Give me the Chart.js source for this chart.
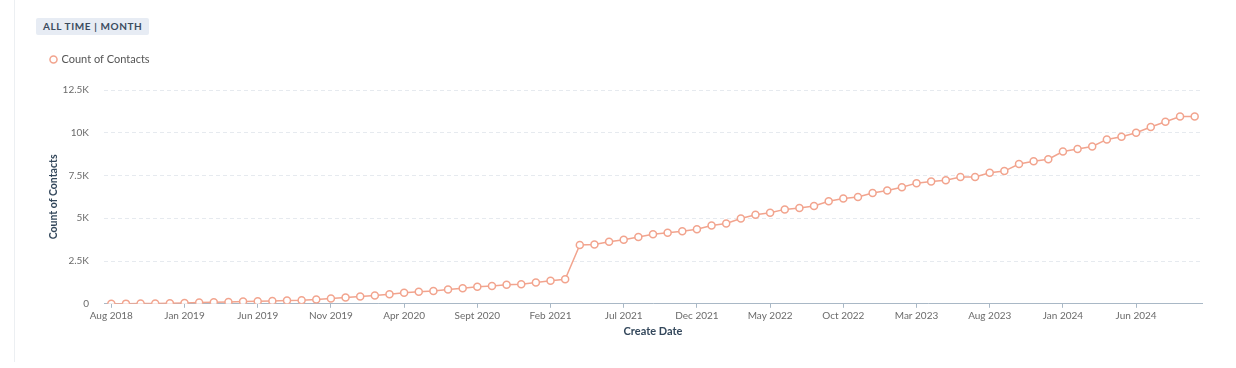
<!DOCTYPE html>
<html>
<head>
<meta charset="utf-8">
<script src="https://cdn.jsdelivr.net/npm/chart.js@4.4.1/dist/chart.umd.min.js"></script>
<style>
  body { margin: 0; background: #fff; font-family: Lato, sans-serif; }
  #wrap { position: relative; width: 1236px; height: 368px; }
  #frame { position: absolute; left: 14px; top: 0; width: 1222px; height: 362px; border-left: 1px solid #eceff2; }
  #badge {
    position: absolute; left: 36px; top: 18px; height: 17px; line-height: 17px;
    padding: 0 7px; background: #e7ecf4; color: #3b4b5e; font-size: 10px;
    font-weight: 700; letter-spacing: 0.6px; border-radius: 2px;
  }
  canvas { position: absolute; left: 0; top: 0; }
</style>
</head>
<body>
<div id="wrap">
  <div id="frame"></div>
  <canvas id="chart" width="1236" height="368"></canvas>
  <div id="badge">ALL TIME | MONTH</div>
</div>
<script>
const months = [
  'Aug 2018', 'Sept 2018', 'Oct 2018', 'Nov 2018', 'Dec 2018',
  'Jan 2019', 'Feb 2019', 'Mar 2019', 'Apr 2019', 'May 2019',
  'Jun 2019', 'Jul 2019', 'Aug 2019', 'Sept 2019', 'Oct 2019',
  'Nov 2019', 'Dec 2019', 'Jan 2020', 'Feb 2020', 'Mar 2020',
  'Apr 2020', 'May 2020', 'Jun 2020', 'Jul 2020', 'Aug 2020',
  'Sept 2020', 'Oct 2020', 'Nov 2020', 'Dec 2020', 'Jan 2021',
  'Feb 2021', 'Mar 2021', 'Apr 2021', 'May 2021', 'Jun 2021',
  'Jul 2021', 'Aug 2021', 'Sept 2021', 'Oct 2021', 'Nov 2021',
  'Dec 2021', 'Jan 2022', 'Feb 2022', 'Mar 2022', 'Apr 2022',
  'May 2022', 'Jun 2022', 'Jul 2022', 'Aug 2022', 'Sept 2022',
  'Oct 2022', 'Nov 2022', 'Dec 2022', 'Jan 2023', 'Feb 2023',
  'Mar 2023', 'Apr 2023', 'May 2023', 'Jun 2023', 'Jul 2023',
  'Aug 2023', 'Sept 2023', 'Oct 2023', 'Nov 2023', 'Dec 2023',
  'Jan 2024', 'Feb 2024', 'Mar 2024', 'Apr 2024', 'May 2024',
  'Jun 2024', 'Jul 2024', 'Aug 2024', 'Sept 2024', 'Oct 2024'
];

// count of contacts per month (cumulative)
const contactCounts = [
  5, 10, 15, 20, 30, 50, 70, 90, 110, 130,
  150, 165, 190, 205, 250, 305, 365, 425, 485, 565,
  640, 700, 755, 840, 915, 990, 1035, 1110, 1150, 1250,
  1345, 1430, 3435, 3470, 3630, 3750, 3910, 4060, 4160, 4240,
  4355, 4575, 4690, 4990, 5205, 5325, 5520, 5595, 5715, 5990,
  6150, 6245, 6480, 6625, 6820, 7055, 7155, 7230, 7410, 7410,
  7660, 7760, 8175, 8335, 8455, 8900, 9045, 9195, 9610, 9770,
  10005, 10340, 10640, 10950, 10950
];

const yTickLabels = ['0', '2.5K', '5K', '7.5K', '10K', '12.5K'];

const lineColor = '#f2a48e';
const axisColor = '#a9b8c6';

// push the plot a bit further below the legend
const legendGap = {
  id: 'legendGap',
  beforeInit(chart) {
    const fit = chart.legend.fit;
    chart.legend.fit = function () {
      fit.bind(chart.legend)();
      this.height += 15;
    };
  }
};

new Chart(document.getElementById('chart'), {
  type: 'line',
  data: {
    labels: months,
    datasets: [{
      label: 'Count of Contacts',
      data: contactCounts,
      borderColor: lineColor,
      backgroundColor: '#fff',
      borderWidth: 1.5,
      pointRadius: 3.5,
      pointBorderWidth: 1.5,
      pointBackgroundColor: '#fff',
      pointBorderColor: lineColor,
      tension: 0
    }]
  },
  plugins: [legendGap],
  options: {
    responsive: false,
    animation: false,
    layout: { padding: { left: 41, right: 34, top: 44, bottom: 30 } },
    plugins: {
      tooltip: { enabled: false },
      legend: {
        position: 'top',
        align: 'start',
        labels: {
          usePointStyle: true,
          pointStyle: 'circle',
          boxWidth: 5,
          boxHeight: 5,
          color: '#555',
          font: { family: 'Lato', size: 11 }
        }
      }
    },
    scales: {
      x: {
        offset: true,
        grid: { drawOnChartArea: false, drawTicks: true, tickLength: 4, color: axisColor },
        border: { display: true, color: axisColor },
        ticks: {
          autoSkip: false,
          maxRotation: 0,
          color: '#6b6b6b',
          padding: 2,
          font: { family: 'Lato', size: 10 },
          callback: function (value, index) {
            return index % 5 === 0 ? this.getLabelForValue(value) : null;
          }
        },
        title: {
          display: true,
          text: 'Create Date',
          color: '#33475b',
          padding: { top: 1, bottom: 0 },
          font: { family: 'Lato', size: 11, weight: 'bold' }
        }
      },
      y: {
        min: 0,
        max: 12500,
        afterFit: (scale) => { scale.width = 63; },
        grid: { color: '#e6eaef', drawTicks: false },
        border: { display: false, dash: [4, 3] },
        ticks: {
          stepSize: 2500,
          color: '#6b6b6b',
          padding: 15,
          font: { family: 'Lato', size: 10 },
          callback: (value, index) => yTickLabels[index]
        },
        title: {
          display: true,
          text: 'Count of Contacts',
          color: '#33475b',
          padding: { top: 6, bottom: 0 },
          font: { family: 'Lato', size: 10.5, weight: 'bold' }
        }
      }
    }
  }
});
</script>
</body>
</html>
